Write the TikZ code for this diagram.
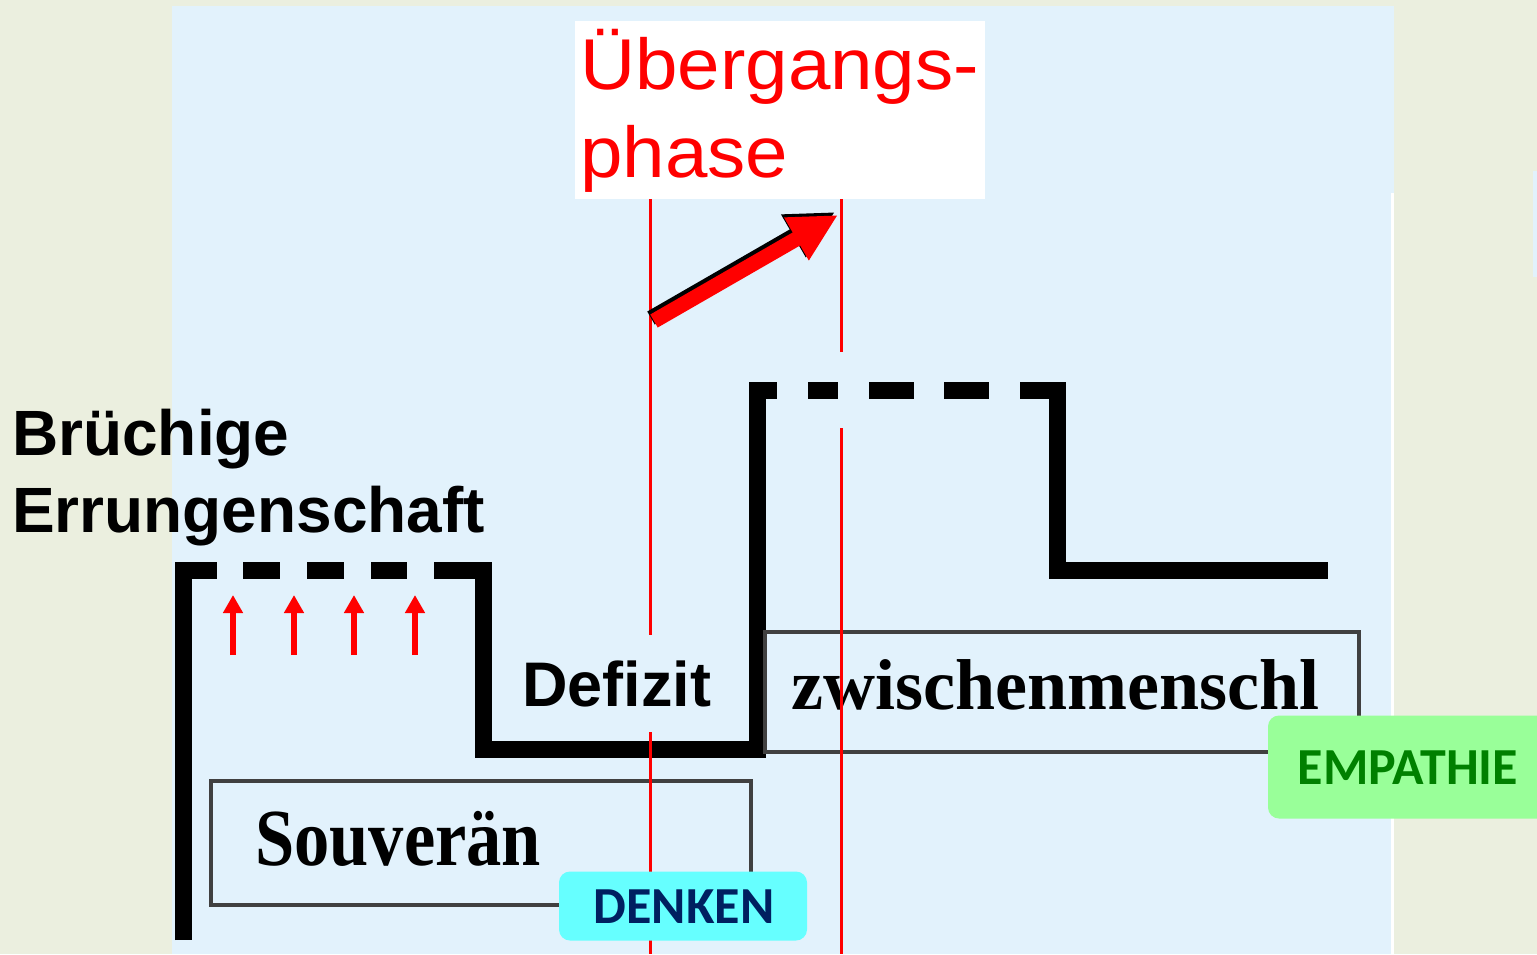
\documentclass[tikz,border=0pt]{standalone}
\usepackage{fontspec}
\setmainfont{Liberation Sans}
\newfontfamily\serifbold{Liberation Serif}[BoldFont={* Bold}]
\newfontfamily\carlito{Carlito}
\usetikzlibrary{arrows.meta}
\definecolor{bgbeige}{HTML}{EBEFDF}
\definecolor{panelblue}{HTML}{E2F2FC}
\definecolor{denkcyan}{HTML}{66FFFF}
\definecolor{denknavy}{HTML}{002060}
\definecolor{empgreen}{HTML}{99FF99}
\definecolor{empdark}{HTML}{008000}
\definecolor{boxgray}{HTML}{404040}
\tikzset{
  thickline/.style={line width=17pt, black, line cap=butt, line join=miter},
  redline/.style={red, line width=3pt},
  smallarrow/.style={red, line width=6pt, -{Triangle[length=18pt,width=19pt]}},
  bigarrow/.style={line width=15pt, -{Triangle[length=48pt,width=46pt]}},
  framebox/.style={draw=boxgray, line width=4pt, inner sep=0pt},
  tagbox/.style={rounded corners=11pt, inner sep=0pt},
  lbl/.style={inner sep=0pt, anchor=base west},
}
\begin{document}
\begin{tikzpicture}[x=1pt,y=-1pt]
\useasboundingbox (0,0) rectangle (1537,954);
% background
\fill[bgbeige] (0,0) rectangle (1537,954);
\fill[panelblue] (172,6) rectangle (1394,954);
\fill[white] (1391,193) rectangle (1394,954);
\fill[panelblue] (1533,171) rectangle (1537,277);

% title box
\node[fill=white, minimum width=410pt, minimum height=178pt, inner sep=0pt] (titlebox) at (780,110) {};
\node[lbl, red] (t1) at (580,89) {\fontsize{72}{72}\selectfont\scalebox{1.06}[1]{Übergangs-}};
\node[lbl, red] (t2) at (580,177) {\fontsize{72}{72}\selectfont\scalebox{1.06}[1]{phase}};

% thick step line
\draw[thickline] (183,940) -- (183,570) -- (217,570);
\draw[thickline] (243,570) -- (280,570);
\draw[thickline] (307,570) -- (344,570);
\draw[thickline] (371,570) -- (407,570);
\draw[thickline] (434,570) -- (483,570) -- (483,749) -- (757,749) -- (757,390) -- (777,390);
\draw[thickline] (808,390) -- (838,390);
\draw[thickline] (869,390) -- (914,390);
\draw[thickline] (944,390) -- (989,390);
\draw[thickline] (1020,390) -- (1057,390) -- (1057,570) -- (1328,570);

% framed boxes
\node[framebox, minimum width=540pt, minimum height=124pt] (souvbox) at (481,843) {};
\node[lbl] (souv) at (255,865) {\serifbold\bfseries\fontsize{81}{81}\selectfont\scalebox{0.87}[1]{Souverän}};
\node[framebox, minimum width=594pt, minimum height=120pt] (zwbox) at (1062,692) {};
\node[lbl] (zw) at (791,709) {\serifbold\bfseries\fontsize{72}{72}\selectfont zwischenmenschl};

% red guide lines
\coordinate (la1) at (650,199); \coordinate (la2) at (650,635);
\coordinate (la3) at (650,732); \coordinate (la4) at (650,954);
\coordinate (lb1) at (841,199); \coordinate (lb2) at (841,352);
\coordinate (lb3) at (841,428); \coordinate (lb4) at (841,954);
\draw[redline] (la1) -- (la2);
\draw[redline] (la3) -- (la4);
\draw[redline] (lb1) -- (lb2);
\draw[redline] (lb3) -- (lb4);

% big arrow
\coordinate (bs) at (654,321); \coordinate (be) at (838,215);
\draw[bigarrow, black] ([shift={(-3,-3)}]bs) -- ([shift={(-3,-3)}]be);
\draw[bigarrow, red] (bs) -- (be);

% small arrows
\foreach \x [count=\i] in {233,294,354,415}{
  \coordinate (sa\i) at (\x,655); \coordinate (sb\i) at (\x,595);
  \draw[smallarrow] (sa\i) -- (sb\i);
}

% texts
\node[lbl] (br1) at (12,455) {\bfseries\fontsize{64}{64}\selectfont Brüchige};
\node[lbl] (br2) at (12,532) {\bfseries\fontsize{64}{64}\selectfont Errungenschaft};
\node[lbl] (def) at (522,706) {\bfseries\fontsize{63}{63}\selectfont Defizit};

% tags
\node[tagbox, fill=denkcyan, minimum width=248pt, minimum height=69pt] (denkbox) at (683,906) {};
\node[text=denknavy, inner sep=0pt] (denk) at (684,907) {\carlito\bfseries\fontsize{52}{52}\selectfont DENKEN};
\node[tagbox, fill=empgreen, minimum width=300pt, minimum height=103pt] (empbox) at (1418,767) {};
\node[text=empdark, inner sep=0pt] (emp) at (1408,768) {\carlito\bfseries\fontsize{52}{52}\selectfont EMPATHIE};
\end{tikzpicture}
\end{document}
